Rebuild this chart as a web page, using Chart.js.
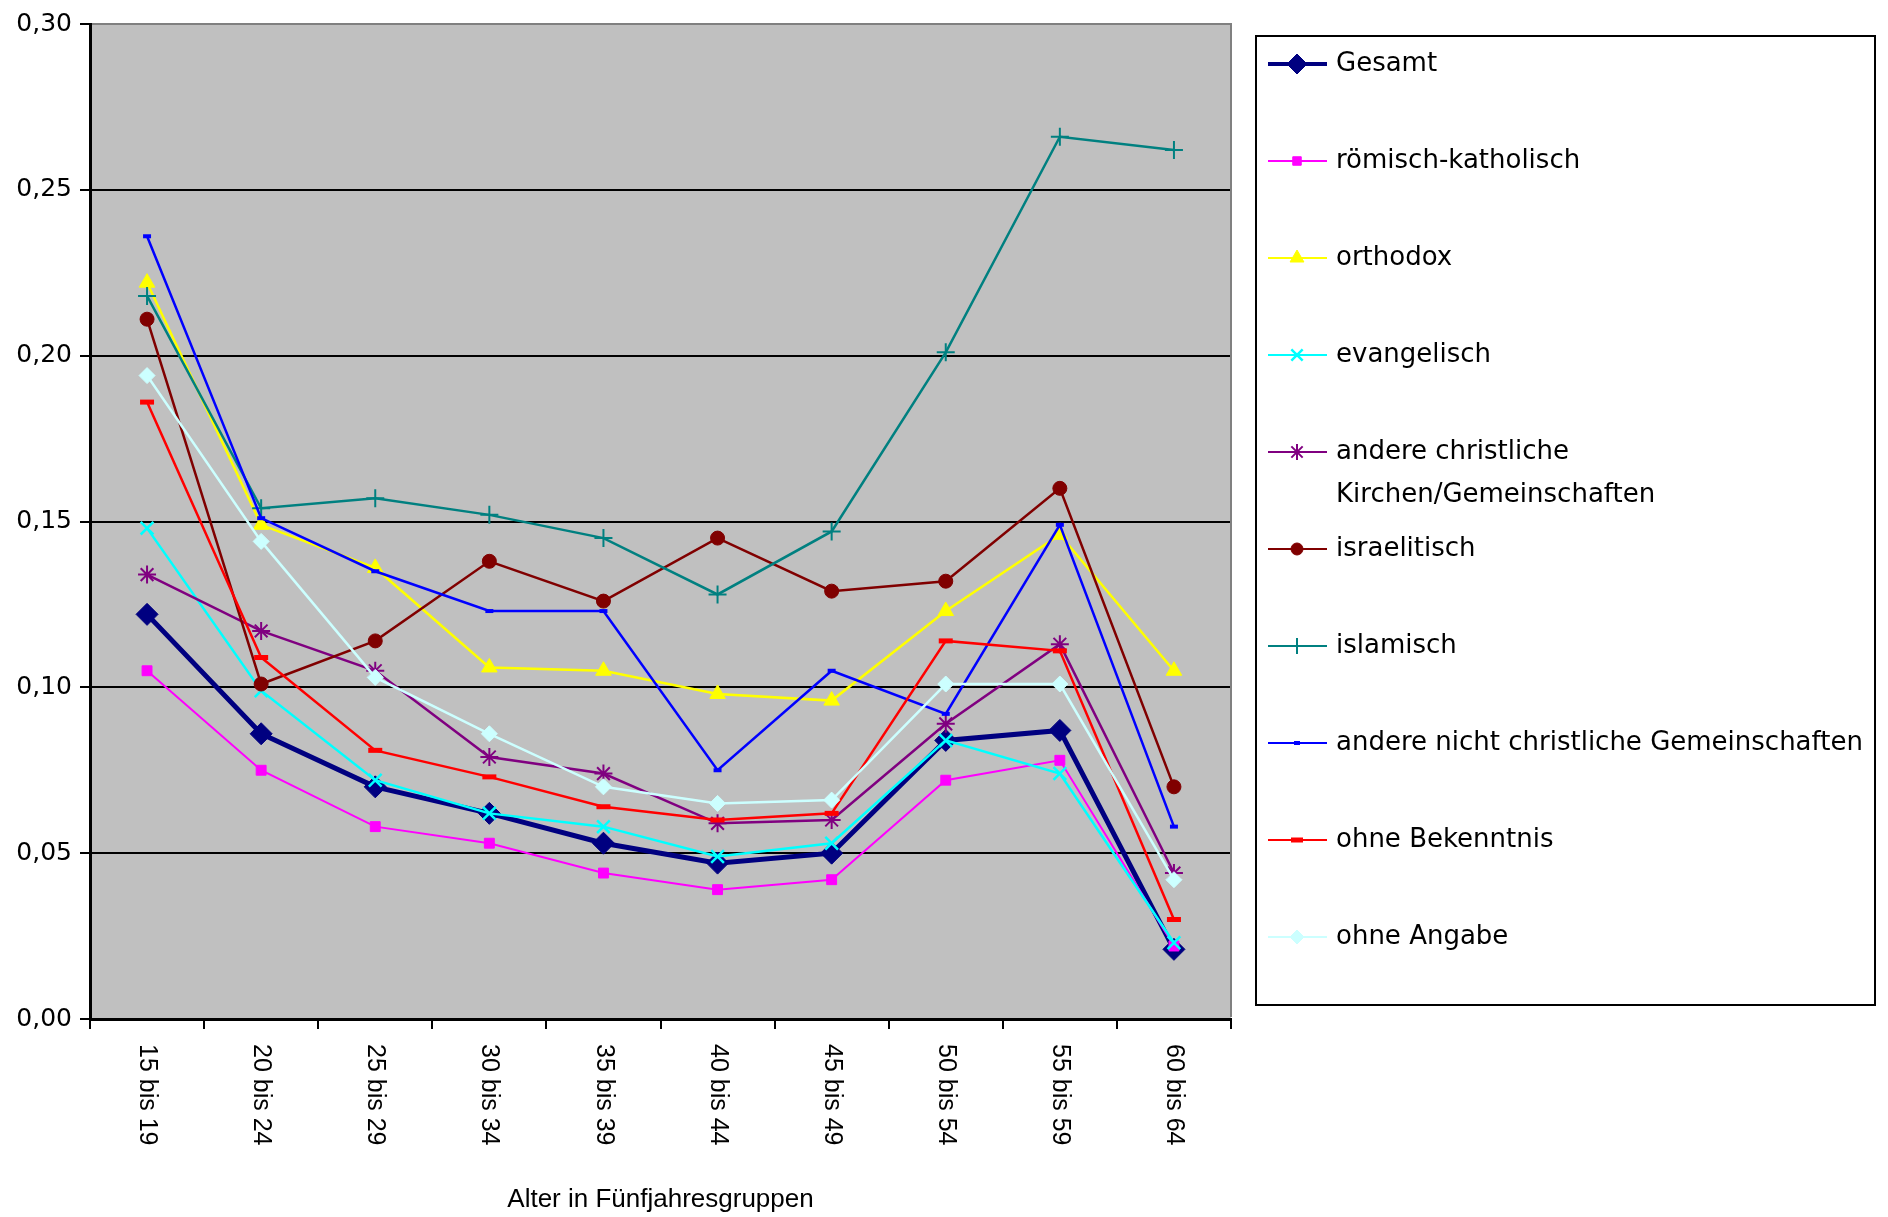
<!DOCTYPE html>
<html>
<head>
<meta charset="utf-8">
<script src="https://cdn.jsdelivr.net/npm/chart.js@4/dist/chart.umd.min.js"></script>
<style>
  html, body { margin: 0; padding: 0; background: #fff; }
  #wrap { width: 1888px; height: 1217px; }
</style>
</head>
<body>
<div id="wrap"><canvas id="chart" width="1888" height="1217"></canvas></div>
<script>
// Altersgruppen
const categories = ["15 bis 19", "20 bis 24", "25 bis 29", "30 bis 34", "35 bis 39",
                    "40 bis 44", "45 bis 49", "50 bis 54", "55 bis 59", "60 bis 64"];

const yTicks = [0, 0.05, 0.10, 0.15, 0.20, 0.25, 0.30];

// Werte je Religionsbekenntnis
const gesamt             = [0.122, 0.086, 0.070, 0.062, 0.053, 0.047, 0.050, 0.084, 0.087, 0.021];
const roemischKatholisch = [0.105, 0.075, 0.058, 0.053, 0.044, 0.039, 0.042, 0.072, 0.078, 0.022];
const orthodox           = [0.222, 0.149, 0.136, 0.106, 0.105, 0.098, 0.096, 0.123, 0.146, 0.105];
const evangelisch        = [0.148, 0.099, 0.072, 0.062, 0.058, 0.049, 0.053, 0.084, 0.074, 0.023];
const andereChristliche  = [0.134, 0.117, 0.105, 0.079, 0.074, 0.059, 0.060, 0.089, 0.113, 0.044];
const israelitisch       = [0.211, 0.101, 0.114, 0.138, 0.126, 0.145, 0.129, 0.132, 0.160, 0.070];
const islamisch          = [0.218, 0.154, 0.157, 0.152, 0.145, 0.128, 0.147, 0.201, 0.266, 0.262];
const andereNichtChristl = [0.236, 0.151, 0.135, 0.123, 0.123, 0.075, 0.105, 0.092, 0.149, 0.058];
const ohneBekenntnis     = [0.186, 0.109, 0.081, 0.073, 0.064, 0.060, 0.062, 0.114, 0.111, 0.030];
const ohneAngabe         = [0.194, 0.144, 0.103, 0.086, 0.070, 0.065, 0.066, 0.101, 0.101, 0.042];

const seriesNames = ["Gesamt", "römisch-katholisch", "orthodox", "evangelisch",
  "andere christliche|Kirchen/Gemeinschaften", "israelitisch", "islamisch",
  "andere nicht christliche Gemeinschaften", "ohne Bekenntnis", "ohne Angabe"];
const seriesData = [gesamt, roemischKatholisch, orthodox, evangelisch, andereChristliche,
  israelitisch, islamisch, andereNichtChristl, ohneBekenntnis, ohneAngabe];

// style per series
const styles = [
  { color: "#000080", point: "rectRot",  r: 11, lw: 5,   pbw: 1 },
  { color: "#FF00FF", point: "rect",     r: 7,  lw: 2,   pbw: 1 },
  { color: "#FFFF00", point: "triangle", r: 9,  lw: 2.5, pbw: 1 },
  { color: "#00FFFF", point: "crossRot", r: 9,  lw: 2.5, pbw: 2.5 },
  { color: "#800080", point: "star",     r: 9,  lw: 2.5, pbw: 2 },
  { color: "#800000", point: "circle",   r: 7,  lw: 2.5, pbw: 1 },
  { color: "#008080", point: "cross",    r: 9,  lw: 2.5, pbw: 2 },
  { color: "#0000FF", point: "line",     r: 4,  lw: 2.5, pbw: 4 },
  { color: "#FF0000", point: "line",     r: 7,  lw: 2.5, pbw: 5 },
  { color: "#CCFFFF", point: "rectRot",  r: 8,  lw: 2.5, pbw: 1 }
];

const FONT = "'DejaVu Sans', sans-serif";
const NARROW = "'Liberation Sans Narrow', 'Liberation Sans', sans-serif";

const datasets = seriesData.map((d, i) => ({
  label: seriesNames[i].replace("|", " "),
  data: d,
  borderColor: styles[i].color,
  backgroundColor: styles[i].color,
  borderWidth: styles[i].lw,
  pointStyle: styles[i].point,
  pointRadius: styles[i].r,
  pointHoverRadius: styles[i].r,
  pointBorderWidth: styles[i].pbw,
  pointBackgroundColor: styles[i].color,
  pointBorderColor: styles[i].color,
  tension: 0,
  order: seriesData.length - i
}));

// grey plot area + grey frame top/right
const plotArea = {
  id: "plotArea",
  beforeDraw(chart) {
    const { ctx, chartArea: a } = chart;
    ctx.save();
    ctx.fillStyle = "#C0C0C0";
    ctx.fillRect(a.left, a.top, a.right - a.left, a.bottom - a.top);
    ctx.restore();
  },
  beforeDatasetsDraw(chart) {
    const { ctx, chartArea: a } = chart;
    ctx.save();
    ctx.strokeStyle = "#808080";
    ctx.lineWidth = 2;
    ctx.beginPath();
    ctx.moveTo(a.left + 2, a.top);
    ctx.lineTo(a.right, a.top);
    ctx.lineTo(a.right, a.bottom - 2);
    ctx.stroke();
    ctx.restore();
  }
};

// x labels read top-to-bottom
const xLabels = {
  id: "xLabels",
  afterDraw(chart) {
    const { ctx } = chart;
    const xs = chart.scales.x;
    ctx.save();
    ctx.fillStyle = "#000";
    ctx.font = "25px " + NARROW;
    ctx.textAlign = "left";
    ctx.textBaseline = "middle";
    categories.forEach((c, i) => {
      const x = xs.getPixelForValue(i);
      ctx.save();
      ctx.translate(x, 1044);
      ctx.rotate(Math.PI / 2);
      ctx.fillText(c, 0, 0);
      ctx.restore();
    });
    ctx.font = "26px " + NARROW;
    ctx.textAlign = "center";
    ctx.fillText("Alter in Fünfjahresgruppen", (chart.chartArea.left + chart.chartArea.right) / 2, 1200);
    ctx.restore();
  }
};

// boxed legend on the right
const boxLegend = {
  id: "boxLegend",
  afterDraw(chart) {
    const { ctx } = chart;
    ctx.save();
    ctx.strokeStyle = "#000";
    ctx.lineWidth = 2;
    ctx.strokeRect(1256, 36, 619, 969);
    ctx.font = "26px " + FONT;
    ctx.textBaseline = "middle";
    ctx.textAlign = "left";
    seriesNames.forEach((name, i) => {
      const st = styles[i];
      const y = 64 + i * 97;
      ctx.strokeStyle = st.color;
      ctx.fillStyle = st.color;
      ctx.lineWidth = i === 0 ? 4 : 2;
      ctx.beginPath();
      ctx.moveTo(1268, y);
      ctx.lineTo(1327, y);
      ctx.stroke();
      ctx.lineWidth = st.pbw;
      Chart.helpers.drawPoint(ctx, { pointStyle: st.point, rotation: 0, radius: st.r - 1, borderWidth: st.pbw }, 1297, y);
      ctx.fillStyle = "#000";
      name.split("|").forEach((line, k) => ctx.fillText(line, 1336, y + k * 43));
    });
    ctx.restore();
  }
};

new Chart(document.getElementById("chart"), {
  type: "line",
  data: { labels: categories, datasets: datasets },
  options: {
    responsive: false,
    animation: false,
    devicePixelRatio: 1,
    layout: { padding: { top: 24, right: 657, bottom: 0, left: 0 } },
    plugins: {
      legend: { display: false },
      tooltip: { enabled: false }
    },
    scales: {
      x: {
        offset: true,
        grid: { offset: true, drawOnChartArea: false, drawTicks: true, tickLength: 10, color: "#000", lineWidth: 2 },
        border: { color: "#000", width: 3 },
        ticks: { color: "rgba(0,0,0,0)", maxRotation: 0, minRotation: 0, font: { size: 12 } },
        afterFit(scale) { scale.width; scale.height = 198; }
      },
      y: {
        min: 0,
        max: 0.3,
        afterBuildTicks(scale) { scale.ticks = yTicks.map(v => ({ value: v })); },
        grid: { color: "#000", lineWidth: 2, tickLength: 10 },
        border: { color: "#000", width: 3 },
        ticks: {
          color: "#000",
          padding: 8,
          font: { family: FONT, size: 25 },
          callback: v => v.toFixed(2).replace(".", ",")
        },
        afterFit(scale) { scale.width = 90; }
      }
    }
  },
  plugins: [plotArea, xLabels, boxLegend]
});
</script>
</body>
</html>
